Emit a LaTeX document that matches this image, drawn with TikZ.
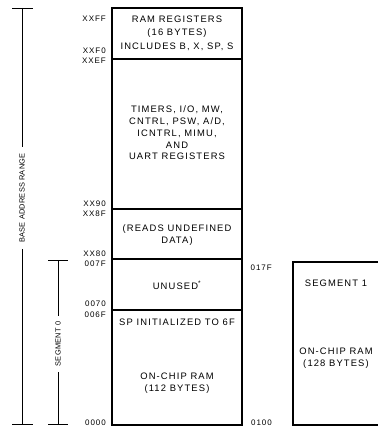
\documentclass[tikz,border=0pt]{standalone}
\usepackage{fontspec}
\setmainfont{Liberation Sans}[LetterSpace=12]
\newfontfamily\plainsf{Liberation Sans}[LetterSpace=3]
\begin{document}
\begin{tikzpicture}[x=1pt,y=-1pt,
  box/.style={line width=2pt},
  divl/.style={line width=1.4pt},
  txt/.style={font=\fontsize{9.4}{12}\selectfont, align=center, inner sep=0},
  addr/.style={font=\fontsize{8}{9}\selectfont, anchor=east, inner sep=0},
  brk/.style={line width=0.9pt},
  rlab/.style={font=\plainsf\fontsize{7.4}{9}\selectfont, rotate=90, inner sep=6pt}]
\useasboundingbox (0,0) rectangle (377,427);
\fill[white] (0,0) rectangle (377,427);
% main memory block
\draw[box] (112,8) rectangle (242,425);
\draw[divl] (112,59) -- (242,59);
\draw[divl] (112,209) -- (242,209);
\draw[divl] (112,259) -- (242,259);
\draw[divl] (112,310) -- (242,310);
% segment 1 block
\draw[box] (379,262) -- (293,262) -- (293,425) -- (379,425);
% texts in blocks
\node[txt, font=\fontsize{9.4}{13.5}\selectfont] (ramreg) at (177,33) {RAM REGISTERS\\(16 BYTES)\\INCLUDES B, X, SP, S};
\node[txt, font=\fontsize{9.4}{11.7}\selectfont] (timers) at (177,133) {TIMERS, I/O, MW,\\CNTRL, PSW, A/D,\\ICNTRL, MIMU,\\AND\\UART REGISTERS};
\node[txt] (reads) at (177,235) {(READS UNDEFINED\\DATA)};
\node[txt] (unused) at (177,285) {UNUSED\textsuperscript{*}};
\node[txt] (spinit) at (177,322) {SP INITIALIZED TO 6F};
\node[txt] (onchip) at (177,383) {ON-CHIP RAM\\(112 BYTES)};
\node[txt] (seg1) at (336,283) {SEGMENT 1};
\node[txt] (onchip1) at (336,358) {ON-CHIP RAM\\(128 BYTES)};
% addresses
\node[addr] (aXXFF) at (106,19) {XXFF};
\node[addr] (aXXF0) at (106,51) {XXF0};
\node[addr] (aXXEF) at (106,61) {XXEF};
\node[addr] (aXX90) at (106,204) {XX90};
\node[addr] (aXX8F) at (106,214) {XX8F};
\node[addr] (aXX80) at (106,254) {XX80};
\node[addr] (a007F) at (106,264) {007F};
\node[addr] (a0070) at (106,304) {0070};
\node[addr] (a006F) at (106,315) {006F};
\node[addr] (a0000) at (106,423) {0000};
\node[addr] (a017F) at (272,268) {017F};
\node[addr] (a0100) at (272,423) {0100};
% base address range bracket
\coordinate (bt) at (22,8);
\coordinate (bb) at (22,424);
\node[rlab] (blab) at (22,198) {BASE ADDRESS RANGE};
\draw[brk] (12,8) -- (33,8);
\draw[brk] (12,424) -- (33,424);
\draw[brk] (bt) -- (blab.east);
\draw[brk] (blab.west) -- (bb);
% segment 0 bracket
\coordinate (st) at (58,260);
\coordinate (sb) at (58,424);
\node[rlab] (slab) at (58,344) {SEGMENT 0};
\draw[brk] (48,260) -- (68,260);
\draw[brk] (48,424) -- (68,424);
\draw[brk] (st) -- (slab.east);
\draw[brk] (slab.west) -- (sb);
\end{tikzpicture}
\end{document}
